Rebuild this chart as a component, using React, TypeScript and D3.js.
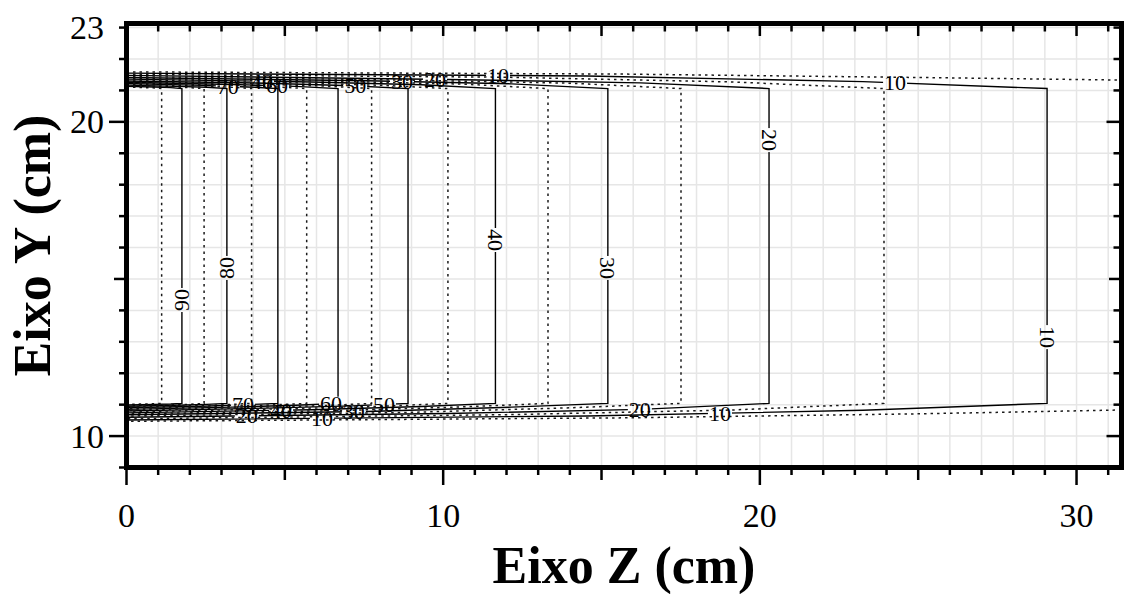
import React from "react";
import * as d3 from "d3";

// ---------- data (cm) ----------
const xMin = 0, xMax = 31.42;
const yMin = 9, yMax = 23.13;
const xTickLabels = [0, 10, 20, 30];
const yTickLabels = [10, 20, 23];

// isodose levels (%) - solid every 10, dotted in between
const levels = [95, 90, 85, 80, 75, 70, 65, 60, 55, 50, 45, 40, 35, 30, 25, 20, 15, 10, 5];
// depth (Z) of the vertical part of each isodose line; null = beyond the plot
const depthCm = [1.11, 1.75, 2.45, 3.17, 3.95, 4.78, 5.69, 6.68, 7.74, 8.89, 10.15, 11.65, 13.31, 15.2, 17.51, 20.29, 23.92, 29.07, null];
// upper penumbra: Y at Z=0, at half depth, at 0.8 depth, at the corner
const topAtZero = [21.11, 21.13, 21.15, 21.17, 21.19, 21.22, 21.24, 21.26, 21.28, 21.30, 21.33, 21.36, 21.38, 21.41, 21.44, 21.48, 21.51, 21.55, 21.59];
const topAtHalf = [21.09, 21.11, 21.12, 21.13, 21.15, 21.16, 21.18, 21.19, 21.21, 21.23, 21.25, 21.27, 21.29, 21.31, 21.33, 21.35, 21.42, 21.46, 21.52];
const topAt08 = [21.08, 21.09, 21.09, 21.10, 21.11, 21.11, 21.12, 21.13, 21.14, 21.15, 21.16, 21.18, 21.20, 21.21, 21.23, 21.24, 21.27, 21.28, 21.41];
const topCorner = [21.06, 21.06, 21.06, 21.06, 21.06, 21.06, 21.06, 21.06, 21.06, 21.06, 21.06, 21.06, 21.06, 21.06, 21.06, 21.06, 21.06, 21.06, 21.33];
// lower penumbra
const botAtZero = [11.01, 10.99, 10.97, 10.95, 10.93, 10.90, 10.88, 10.85, 10.83, 10.80, 10.77, 10.74, 10.71, 10.68, 10.64, 10.60, 10.55, 10.51, 10.47];
const botAtHalf = [11.02, 11.01, 10.99, 10.98, 10.97, 10.95, 10.94, 10.92, 10.91, 10.89, 10.87, 10.84, 10.81, 10.78, 10.75, 10.72, 10.68, 10.64, 10.58];
const botAt08 = [11.03, 11.02, 11.01, 11.01, 11.00, 11.00, 10.99, 10.98, 10.97, 10.96, 10.95, 10.94, 10.93, 10.92, 10.90, 10.85, 10.83, 10.82, 10.71];
const botCorner = [11.04, 11.04, 11.04, 11.04, 11.04, 11.04, 11.04, 11.04, 11.04, 11.04, 11.04, 11.04, 11.04, 11.04, 11.04, 11.04, 11.04, 11.04, 10.83];

// contour labels
const labelLevel = [70, 40, 60, 50, 30, 20, 10, 10, 70, 20, 40, 60, 10, 30, 50, 20, 10, 90, 80, 40, 30, 20, 10];
const labelEdge = ["top", "top", "top", "top", "top", "top", "top", "top",
  "bottom", "bottom", "bottom", "bottom", "bottom", "bottom", "bottom", "bottom", "bottom",
  "side", "side", "side", "side", "side", "side"];
const labelZ = [3.2, 4.28, 4.75, 7.22, 8.7, 9.74, 11.73, 24.27,
  3.68, 3.8, 4.88, 6.46, 6.17, 7.18, 8.13, 16.21, 18.74,
  1.75, 3.17, 11.65, 15.2, 20.29, 29.07];
const labelSideY = [0, 0, 0, 0, 0, 0, 0, 0, 0, 0, 0, 0, 0, 0, 0, 0, 0, 14.33, 15.35, 16.24, 15.35, 19.42, 13.15];
const labelRot = [0, 0, 0, 0, 0, 0, 0, 0, 0, 0, 0, 0, 0, 0, 0, 0, 0, -90, -90, 90, 90, 90, 90];

const W = 1131, H = 594;
const L = 126.5, R = 1121.5, T = 23.5, B = 467.5;
const serif = "'Liberation Serif', 'Times New Roman', Times, serif";
const LABEL_SIZE = 22;

type P = [number, number];

function edgePoints(i: number): { top: P[]; bot: P[]; open: boolean } {
  const open = depthCm[i] == null;
  const d = open ? xMax : (depthCm[i] as number);
  const top: P[] = [[0, topAtZero[i]], [0.5 * d, topAtHalf[i]], [0.8 * d, topAt08[i]], [d, topCorner[i]]];
  const bot: P[] = [[d, botCorner[i]], [0.8 * d, botAt08[i]], [0.5 * d, botAtHalf[i]], [0, botAtZero[i]]];
  return { top, bot, open };
}

function interp(pts: P[], z: number): number {
  const s = [...pts].sort((a, b) => a[0] - b[0]);
  for (let k = 0; k < s.length - 1; k++) {
    if (z >= s[k][0] && z <= s[k + 1][0]) {
      const t = (z - s[k][0]) / (s[k + 1][0] - s[k][0] || 1);
      return s[k][1] + t * (s[k + 1][1] - s[k][1]);
    }
  }
  return s[s.length - 1][1];
}

export default function App() {
  const x = d3.scaleLinear().domain([xMin, xMax]).range([L, R]);
  const y = d3.scaleLinear().domain([yMin, yMax]).range([B, T]);
  const line = d3.line<P>().x((d) => x(d[0])).y((d) => y(d[1]));

  const labels = labelLevel.map((lv, k) => {
    const i = levels.indexOf(lv);
    const e = edgePoints(i);
    let Y = labelSideY[k];
    if (labelEdge[k] === "top") Y = interp(e.top, labelZ[k]);
    if (labelEdge[k] === "bottom") Y = interp(e.bot, labelZ[k]);
    return { lv, i, px: x(labelZ[k]), py: y(Y), rot: labelRot[k] };
  });

  const xGrid = d3.range(1, 32);
  const yGrid = d3.range(10, 24);
  const xTicks = d3.range(0, 32);
  const yTicks = d3.range(9, 24);
  const bw = 24, bh = 14;

  return (
    <svg width={W} height={H} style={{ position: "absolute", left: 0, top: 0, background: "#fff" }}>
      <defs>
        <clipPath id="plot">
          <rect x={L} y={T} width={R - L} height={B - T} />
        </clipPath>
        {levels.map((lv, i) => (
          <mask id={`m${i}`} key={i} maskUnits="userSpaceOnUse" x={0} y={0} width={W} height={H}>
            <rect x={0} y={0} width={W} height={H} fill="#fff" />
            {labels.filter((l) => l.i === i).map((l, k) =>
              l.rot === 0 ? (
                <rect key={k} x={l.px - bw / 2} y={l.py - bh / 2} width={bw} height={bh} fill="#000" />
              ) : (
                <rect key={k} x={l.px - bh / 2} y={l.py - bw / 2} width={bh} height={bw} fill="#000" />
              )
            )}
          </mask>
        ))}
      </defs>

      {/* grid */}
      <g stroke="#e6e6e6" strokeWidth={1.5}>
        {xGrid.map((v) => (
          <line key={`gx${v}`} x1={x(v)} x2={x(v)} y1={T} y2={B} />
        ))}
        {yGrid.map((v) => (
          <line key={`gy${v}`} x1={L} x2={R} y1={y(v)} y2={y(v)} />
        ))}
      </g>

      {/* isodose lines */}
      <g clipPath="url(#plot)" fill="none">
        {levels.map((lv, i) => {
          const e = edgePoints(i);
          const d = e.open ? (line(e.top) || "") + (line(e.bot) || "") : line([...e.top, ...e.bot]) || "";
          const solid = lv % 10 === 0;
          return (
            <g key={i} mask={`url(#m${i})`}>
              <path
                d={d}
                stroke={solid ? "#000" : "#1a1a1a"}
                strokeWidth={solid ? 1.4 : 1.5}
                strokeDasharray={solid ? undefined : "2.5 4"}
              />
            </g>
          );
        })}
      </g>

      {/* contour labels */}
      <g fontFamily={serif} fontSize={LABEL_SIZE} fill="#000" textAnchor="middle">
        {labels.map((l, k) => (
          <text key={k} transform={`translate(${l.px},${l.py}) rotate(${l.rot})`} y={LABEL_SIZE * 0.34}>
            {l.lv}
          </text>
        ))}
      </g>

      {/* frame */}
      <rect x={L} y={T} width={R - L} height={B - T} fill="none" stroke="#000" strokeWidth={5} />

      {/* ticks */}
      <g stroke="#000" strokeWidth={2.5}>
        {xTicks.map((v) => {
          const len = v % 10 === 0 ? 17.5 : v % 5 === 0 ? 12.5 : 7.5;
          const lenIn = v % 5 === 0 ? 12.5 : 8;
          return (
            <g key={`tx${v}`}>
              <line x1={x(v)} x2={x(v)} y1={B} y2={B + len} />
              <line x1={x(v)} x2={x(v)} y1={T} y2={T + lenIn} />
            </g>
          );
        })}
        {yTicks.map((v) => {
          const len = v % 10 === 0 ? 17.5 : v % 5 === 0 ? 12.5 : 7.5;
          const lenIn = v % 10 === 0 ? 15 : v % 5 === 0 ? 12.5 : 8;
          return (
            <g key={`ty${v}`}>
              <line x1={L} x2={L - len} y1={y(v)} y2={y(v)} />
              <line x1={R} x2={R - lenIn} y1={y(v)} y2={y(v)} />
            </g>
          );
        })}
      </g>

      {/* tick labels */}
      <g fontFamily={serif} fontSize={34} fill="#000">
        {xTickLabels.map((v) => (
          <text key={`lx${v}`} x={x(v)} y={527} textAnchor="middle">
            {v}
          </text>
        ))}
        {yTickLabels.map((v) => (
          <text key={`ly${v}`} x={104} y={y(v) + 11.5} textAnchor="end">
            {v}
          </text>
        ))}
      </g>

      {/* axis titles */}
      <text x={(L + R) / 2} y={583} textAnchor="middle" fontFamily={serif} fontWeight="bold" fontSize={52}>
        Eixo Z (cm)
      </text>
      <text
        transform={`translate(50,${(T + B) / 2}) rotate(-90)`}
        textAnchor="middle"
        fontFamily={serif}
        fontWeight="bold"
        fontSize={52}
      >
        Eixo Y (cm)
      </text>
    </svg>
  );
}
